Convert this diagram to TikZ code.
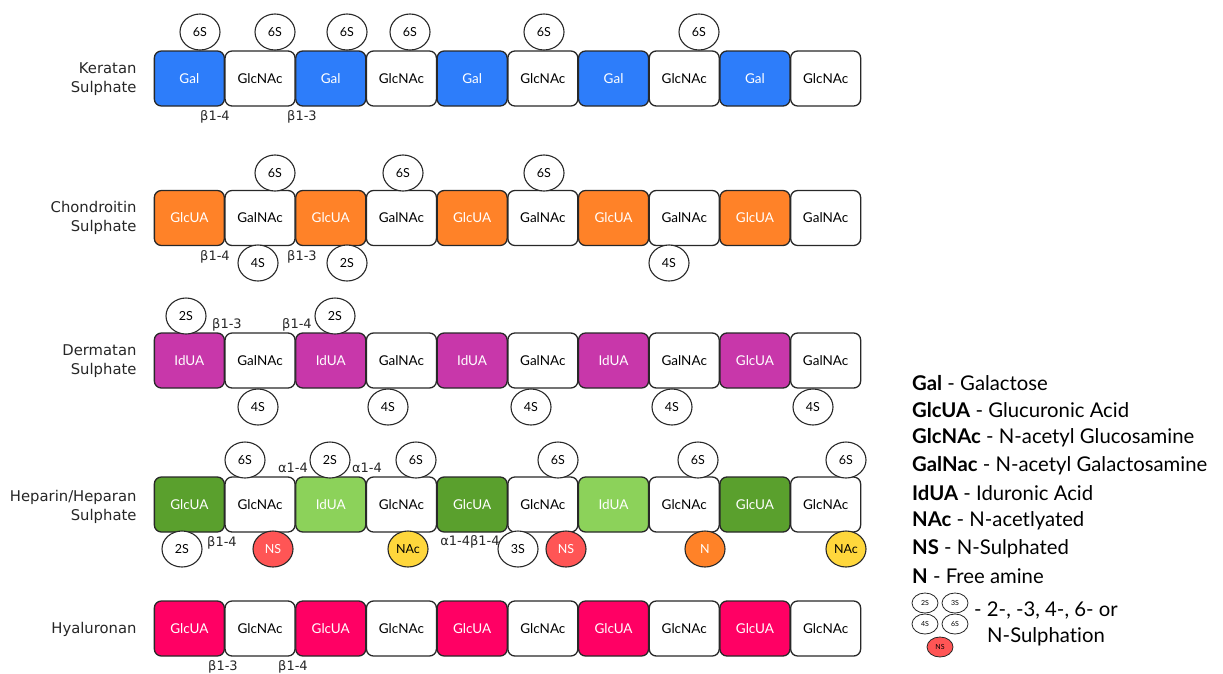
\documentclass[tikz,border=0pt]{standalone}
\usepackage{fontspec}
\setmainfont{Lato}[Ligatures=CommonOff]
\newfontfamily\verd{DejaVu Sans}
\usetikzlibrary{shapes.geometric}
\definecolor{linec}{RGB}{40,40,40}
\definecolor{galblue}{RGB}{45,125,250}
\definecolor{csorange}{RGB}{255,130,40}
\definecolor{dsmag}{RGB}{200,55,170}
\definecolor{hsdark}{RGB}{90,160,45}
\definecolor{hslight}{RGB}{140,210,90}
\definecolor{hapink}{RGB}{255,0,100}
\definecolor{nsred}{RGB}{255,85,85}
\definecolor{nacyel}{RGB}{255,215,60}
\definecolor{norange}{RGB}{255,130,40}
\begin{document}
\begin{tikzpicture}[x=1pt,y=-1pt,
  sugar/.style={draw=linec, line width=1.3pt, rounded corners=7pt, minimum width=70pt, minimum height=55pt, inner sep=0pt, font=\fontsize{13.5}{15}\selectfont},
  csug/.style={sugar, fill=#1, text=white},
  wsug/.style={sugar, fill=white, text=black},
  mod/.style={ellipse, draw=linec, line width=1.1pt, fill=#1, minimum width=40pt, minimum height=36pt, inner sep=0pt, font=\fontsize{12.5}{14}\selectfont},
  mod/.default=white,
  smod/.style={ellipse, draw=linec, line width=0.8pt, fill=#1, minimum width=26pt, minimum height=20pt, inner sep=0pt, font=\fontsize{7}{8}\selectfont},
  smod/.default=white,
  rowlab/.style={align=right, anchor=east, font=\verd\fontsize{14.8}{18.5}\selectfont, text=black!85},
  link/.style={font=\verd\fontsize{13}{15}\selectfont, text=black!85, inner sep=0pt},
  legend/.style={anchor=west, font=\fontsize{20.3}{23}\selectfont, inner sep=0pt}]
\useasboundingbox (0,0) rectangle (1223,673);

% ---------- Keratan Sulphate ----------
\node[rowlab] (lk) at (140,79) {Keratan\\Sulphate};
\foreach \j in {0,...,4}
  \node[csug=galblue] (k\j e) at ({189.35+141.4*\j},78.5) {Gal};
\foreach \j in {0,...,4}
  \node[wsug] (k\j o) at ({260.05+141.4*\j},78.5) {GlcNAc};
\foreach \x [count=\n] in {200,275,347,410,544,699}
  \node[mod] (km\n) at (\x,32) {6S};
\node[link] (kl1) at (215,117) {β1-4};
\node[link] (kl2) at (302,117) {β1-3};

% ---------- Chondroitin Sulphate ----------
\node[rowlab] (lc) at (140,218) {Chondroitin\\Sulphate};
\foreach \j in {0,...,4}
  \node[csug=csorange] (c\j e) at ({189.35+141.4*\j},218) {GlcUA};
\foreach \j in {0,...,4}
  \node[wsug] (c\j o) at ({260.05+141.4*\j},218) {GalNAc};
\foreach \x [count=\n] in {275,403,544}
  \node[mod] (ct\n) at (\x,173) {6S};
\node[mod] (cb1) at (258,263) {4S};
\node[mod] (cb2) at (347,263) {2S};
\node[mod] (cb3) at (669,263) {4S};
\node[link] (cl1) at (215,257) {β1-4};
\node[link] (cl2) at (302,257) {β1-3};

% ---------- Dermatan Sulphate ----------
\node[rowlab] (ld) at (140,361) {Dermatan\\Sulphate};
\foreach \t [count=\n from 0] in {IdUA,IdUA,IdUA,IdUA,GlcUA}
  \node[csug=dsmag] (d\n e) at ({189.35+141.4*\n},360.5) {\t};
\foreach \j in {0,...,4}
  \node[wsug] (d\j o) at ({260.05+141.4*\j},360.5) {GalNAc};
\node[mod] (dt1) at (186,316) {2S};
\node[mod] (dt2) at (335,316) {2S};
\node[link] (dl1) at (227,325) {β1-3};
\node[link] (dl2) at (297,325) {β1-4};
\foreach \x [count=\n] in {258,388,531,672,813}
  \node[mod] (db\n) at (\x,407) {4S};

% ---------- Heparin/Heparan Sulphate ----------
\node[rowlab] (lh) at (140,507) {Heparin/Heparan\\Sulphate};
\foreach \c/\t [count=\n from 0] in {hsdark/GlcUA,hslight/IdUA,hsdark/GlcUA,hslight/IdUA,hsdark/GlcUA}
  \node[csug=\c] (h\n e) at ({189.35+141.4*\n},504.5) {\t};
\foreach \j in {0,...,4}
  \node[wsug] (h\j o) at ({260.05+141.4*\j},504.5) {GlcNAc};
\foreach \x/\t [count=\n] in {245/6S,330/2S,416/6S,558/6S,698/6S,846/6S}
  \node[mod] (ht\n) at (\x,460) {\t};
\node[link] (hl1) at (293,468) {α1-4};
\node[link] (hl2) at (367,468) {α1-4};
\node[mod] (hb1) at (182,549) {2S};
\node[mod=nsred, text=white] (hb2) at (273,549) {NS};
\node[mod=nacyel] (hb3) at (408,549) {NAc};
\node[mod] (hb4) at (518,549) {3S};
\node[mod=nsred, text=white] (hb5) at (566,549) {NS};
\node[mod=norange, text=white] (hb6) at (705,549) {N};
\node[mod=nacyel] (hb7) at (846,549) {NAc};
\node[link] (hl3) at (222,543) {β1-4};
\node[link] (hl4) at (470,542) {α1-4β1-4};

% ---------- Hyaluronan ----------
\node[rowlab] (ly) at (140,629) {Hyaluronan};
\foreach \j in {0,...,4}
  \node[csug=hapink] (y\j e) at ({189.35+141.4*\j},628.5) {GlcUA};
\foreach \j in {0,...,4}
  \node[wsug] (y\j o) at ({260.05+141.4*\j},628.5) {GlcNAc};
\node[link] (yl1) at (223,667) {β1-3};
\node[link] (yl2) at (293,667) {β1-4};

% ---------- Legend ----------
\node[legend] (g1) at (912,383) {\textbf{Gal} - Galactose};
\node[legend] (g2) at (912,410.5) {\textbf{GlcUA} - Glucuronic Acid};
\node[legend] (g3) at (912,438) {\textbf{GlcNAc} - N-acetyl Glucosamine};
\node[legend] (g4) at (912,465.5) {\textbf{GalNac} - N-acetyl Galactosamine};
\node[legend] (g5) at (912,493) {\textbf{IdUA} - Iduronic Acid};
\node[legend] (g6) at (912,521) {\textbf{NAc} - N-acetlyated};
\node[legend] (g7) at (912,548.5) {\textbf{NS} - N-Sulphated};
\node[legend] (g8) at (912,576) {\textbf{N} - Free amine};
\node[smod] (s2) at (925,603) {2S};
\node[smod] (s3) at (955,603) {3S};
\node[smod] (s4) at (925,624) {4S};
\node[smod] (s6) at (955,624) {6S};
\node[smod=nsred] (sn) at (940,647) {NS};
\node[legend] (g9) at (974,611) {- 2-, -3, 4-, 6- or};
\node[legend] (g10) at (987,637) {N-Sulphation};
\end{tikzpicture}
\end{document}
